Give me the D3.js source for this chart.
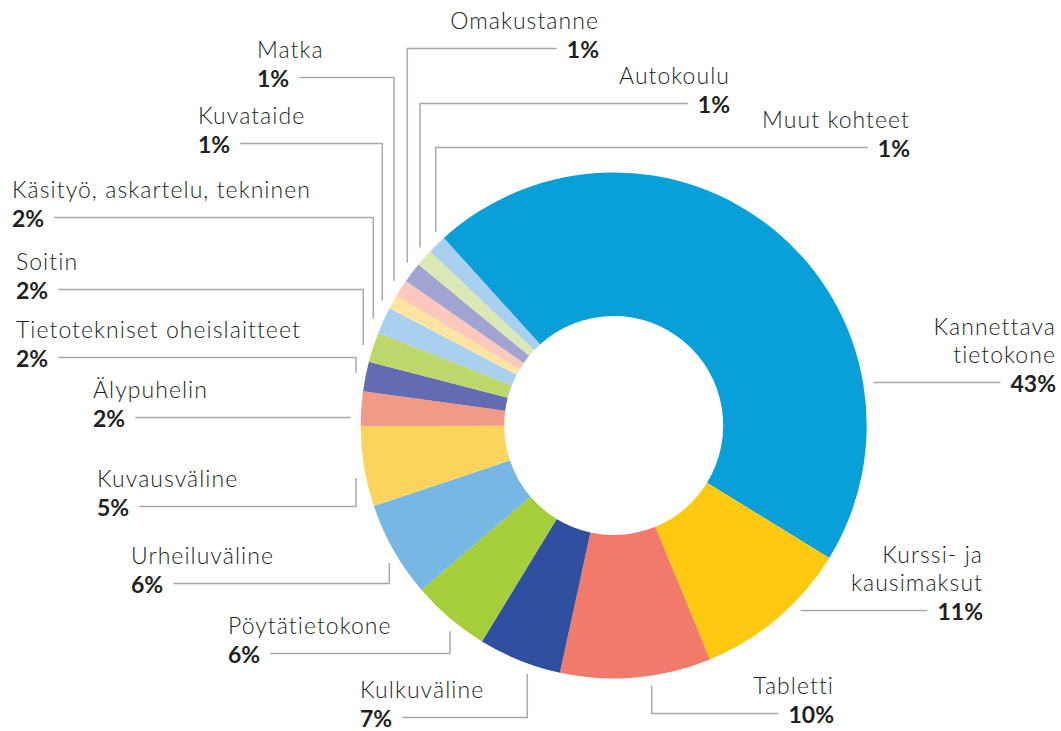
<!DOCTYPE html>
<html>
<head>
<meta charset="utf-8">
<script src="https://cdn.jsdelivr.net/npm/d3@7"></script>
<style>
  body { margin: 0; background: #fff; }
  svg { display: block; }
  .name { font-family: Lato, "Open Sans", sans-serif; font-weight: 300; font-size: 23px; letter-spacing: 1.05px; fill: #231f20; }
  .pct { font-family: Lato, "Open Sans", sans-serif; font-weight: 700; font-size: 23px; fill: #231f20; }
</style>
</head>
<body>
<div id="chart"></div>
<script>
// categories in clockwise order, starting with the big slice
const categories = [
  "Kannettava\ntietokone", "Kurssi- ja\nkausimaksut", "Tabletti", "Kulkuväline",
  "Pöytätietokone", "Urheiluväline", "Kuvausväline", "Älypuhelin",
  "Tietotekniset oheislaitteet", "Soitin", "Käsityö, askartelu, tekninen",
  "Kuvataide", "Matka", "Omakustanne", "Autokoulu", "Muut kohteet"
];
const shares = [45.4, 10.0, 9.6, 5.3, 5.0, 6.1, 5.1, 2.2, 1.9, 1.9, 1.7, 0.9, 1.1, 1.3, 1.1, 1.2];
// percentages printed in the labels
const printed = ["43%", "11%", "10%", "7%", "6%", "6%", "5%", "2%", "2%", "2%", "2%", "1%", "1%", "1%", "1%", "1%"];
const colors = [
  "#09a0da", "#fec90e", "#f27a6a", "#2f4fa0", "#a6ce39", "#77b7e3", "#fcd35b", "#f39a87",
  "#636bb3", "#bcd76a", "#a9d0ee", "#fde4a0", "#fac8bc", "#a1a3d1", "#d9e8b4", "#a9d0ee"
];

// label placement: x, baseline of the percent line, anchor, leader elbow x (null = straight line)
const labelLayout = [
  { x: 1056, y: 392, anchor: "end", elbow: null },
  { x: 983, y: 620, anchor: "end", elbow: null },
  { x: 834, y: 723, anchor: "end", elbow: 651.7 },
  { x: 360, y: 727, anchor: "start", elbow: 527.3 },
  { x: 228, y: 663, anchor: "start", elbow: 450 },
  { x: 131, y: 593, anchor: "start", elbow: 389.3 },
  { x: 97, y: 516, anchor: "start", elbow: 356 },
  { x: 93, y: 427, anchor: "start", elbow: null },
  { x: 16, y: 367, anchor: "start", elbow: 356 },
  { x: 16, y: 299, anchor: "start", elbow: 363.3 },
  { x: 12, y: 227, anchor: "start", elbow: 373.3 },
  { x: 198, y: 153, anchor: "start", elbow: 382.3 },
  { x: 257, y: 87, anchor: "start", elbow: 394 },
  { x: 599, y: 58, anchor: "end", elbow: 407.3 },
  { x: 730, y: 113, anchor: "end", elbow: 420 },
  { x: 910, y: 157, anchor: "end", elbow: 435.7 }
];

const width = 1061, height = 731;
const cx = 613.7, cy = 425.5;
const rIn = 109.5, rOut = 253, rLead = 263;
const lineGap = 28.7, gap = 10;
const start = -42.2 * Math.PI / 180;

const svg = d3.select("#chart").append("svg")
  .attr("width", width)
  .attr("height", height);

const g = svg.append("g").attr("transform", "translate(" + cx + "," + cy + ")");

const pie = d3.pie().sort(null).startAngle(start).endAngle(start + 2 * Math.PI);
const arcs = pie(shares);
const arc = d3.arc().innerRadius(rIn).outerRadius(rOut);

g.selectAll("path.slice")
  .data(arcs)
  .enter()
  .append("path")
  .attr("class", "slice")
  .attr("d", arc)
  .attr("fill", (d, i) => colors[i]);

const lines = svg.append("g");
const labels = svg.append("g");

arcs.forEach(function (d, i) {
  const L = labelLayout[i];
  const names = categories[i].split("\n");
  names.forEach(function (t, k) {
    labels.append("text")
      .attr("class", "name")
      .attr("x", L.x)
      .attr("y", L.y - lineGap * (names.length - k))
      .attr("text-anchor", L.anchor)
      .text(t);
  });
  const pct = labels.append("text")
    .attr("class", "pct")
    .attr("x", L.x)
    .attr("y", L.y)
    .attr("text-anchor", L.anchor)
    .text(printed[i]);

  const w = pct.node().getComputedTextLength();
  const ly = L.y - 9.5;
  const x0 = L.anchor === "start" ? L.x + w + gap : L.x - w - gap;
  // which side of the donut the slice sits on, from its mid angle
  const mid = (d.startAngle + d.endAngle) / 2;
  let path;
  if (L.elbow !== null) {
    const dx = L.elbow - cx;
    const dy = Math.sqrt(rLead * rLead - dx * dx);
    const py = Math.cos(mid) > 0 ? cy - dy : cy + dy;
    path = "M" + x0 + "," + ly + "H" + L.elbow + "V" + py;
  } else {
    const dx = Math.sqrt(rLead * rLead - (ly - cy) * (ly - cy));
    const ex = Math.sin(mid) > 0 ? cx + dx : cx - dx;
    path = "M" + x0 + "," + ly + "H" + ex;
  }
  lines.append("path")
    .attr("d", path)
    .attr("fill", "none")
    .attr("stroke", "#a7a9ac")
    .attr("stroke-width", 1.5);
});
</script>
</body>
</html>
